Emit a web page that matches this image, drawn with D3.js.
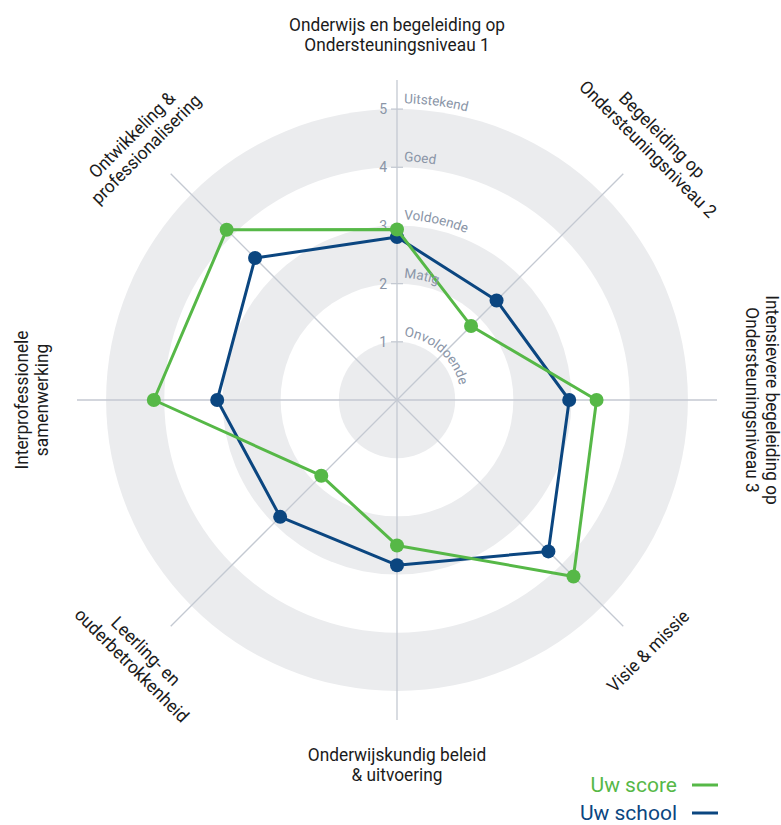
<!DOCTYPE html>
<html>
<head>
<meta charset="utf-8">
<script src="https://cdn.jsdelivr.net/npm/d3@7"></script>
<style>
  html, body { margin: 0; padding: 0; background: #ffffff; }
  svg { display: block; }
</style>
</head>
<body>
<div id="chart"></div>
<script>
// ---- data ----
const categories = [
  ["Onderwijs en begeleiding op", "Ondersteuningsniveau 1"],
  ["Begeleiding op", "Ondersteuningsniveau 2"],
  ["Intensievere begeleiding op", "Ondersteuningsniveau 3"],
  ["Visie & missie"],
  ["Onderwijskundig beleid", "& uitvoering"],
  ["Leerling- en", "ouderbetrokkenheid"],
  ["Interprofessionele", "samenwerking"],
  ["Ontwikkeling &", "professionalisering"]
];
const uwScore  = [2.93, 1.80, 3.43, 4.29, 2.50, 1.84, 4.18, 4.14];
const uwSchool = [2.80, 2.42, 2.96, 3.68, 2.84, 2.84, 3.09, 3.45];
const tickValues = [1, 2, 3, 4, 5];
const levelLabels = ["Onvoldoende", "Matig", "Voldoende", "Goed", "Uitstekend"];
const seriesNames = ["Uw score", "Uw school"];

// ---- style ----
const W = 781, H = 825;
const cx = 397, cy = 400;
const green = "#56b847", navy = "#0b4680";
const bandGrey = "#ebecee", axisGrey = "#c4c9d2", tickGrey = "#8a95a7";

const svg = d3.select("#chart").append("svg")
  .attr("width", W).attr("height", H);

const r = d3.scaleLinear().domain([0, 5.5]).range([0, 320]);
const angle = d3.scaleLinear().domain([0, categories.length]).range([0, 2 * Math.PI]);

const g = svg.append("g").attr("transform", `translate(${cx},${cy})`);

// bands
const bandLevels = [5, 4, 3, 2, 1];
g.selectAll("circle.band").data(bandLevels).join("circle")
  .attr("class", "band")
  .attr("r", d => r(d))
  .attr("fill", d => d % 2 === 1 ? bandGrey : "#ffffff");

// axes
g.selectAll("line.axis").data(categories).join("line")
  .attr("class", "axis")
  .attr("x1", 0).attr("y1", 0)
  .attr("x2", (d, i) => r(5.5) * Math.sin(angle(i)))
  .attr("y2", (d, i) => -r(5.5) * Math.cos(angle(i)))
  .attr("stroke", axisGrey).attr("stroke-width", 1.3);

// ticks
g.selectAll("line.tick").data(tickValues).join("line")
  .attr("class", "tick")
  .attr("x1", -6).attr("x2", 6)
  .attr("y1", d => -r(d)).attr("y2", d => -r(d))
  .attr("stroke", axisGrey).attr("stroke-width", 1.3);
g.selectAll("text.tick").data(tickValues).join("text")
  .attr("class", "tick")
  .attr("x", -10).attr("y", d => -r(d))
  .attr("dy", "0.36em")
  .attr("text-anchor", "end")
  .attr("font-family", "Roboto, sans-serif")
  .attr("font-size", 14)
  .attr("fill", tickGrey)
  .text(d => d);

// level labels on circular paths
const defs = svg.append("defs");
tickValues.forEach((v, i) => {
  const R = r(v) + 6;
  defs.append("path")
    .attr("id", "lvl" + i)
    .attr("d", `M ${cx} ${cy - R} A ${R} ${R} 0 1 1 ${cx} ${cy + R} A ${R} ${R} 0 1 1 ${cx} ${cy - R}`);
});
svg.append("g").selectAll("text.level").data(levelLabels).join("text")
  .attr("class", "level")
  .attr("font-family", "Roboto, sans-serif")
  .attr("font-size", 13.5)
  .attr("fill", tickGrey)
  .append("textPath")
  .attr("href", (d, i) => "#lvl" + i)
  .attr("startOffset", 7)
  .text(d => d);

// category labels
const R0 = 355, lh = 20;
categories.forEach((lines, i) => {
  const aDeg = i * 360 / categories.length;
  let rot = aDeg;
  if (aDeg > 90 && aDeg < 270) rot = aDeg - 180;
  else if (aDeg >= 270) rot = aDeg - 360;
  const bottomHalf = aDeg > 90 && aDeg < 270;
  const n = lines.length;
  const a = angle(i);
  const lg = g.append("g")
    .attr("transform", `translate(${R0 * Math.sin(a)},${-R0 * Math.cos(a)}) rotate(${rot})`);
  lines.forEach((t, j) => {
    let y;
    if (bottomHalf) y = j * lh;
    else y = -(n - 1 - j) * lh;
    lg.append("text")
      .attr("transform", `translate(0,${y}) scale(0.96,1)`)
      .attr("dy", "0.35em")
      .attr("text-anchor", "middle")
      .attr("font-family", "Roboto, sans-serif")
      .attr("font-size", 18)
      .attr("fill", "#1b1b1b")
      .text(t);
  });
});

// series
const line = d3.lineRadial()
  .angle((d, i) => angle(i))
  .radius(d => r(d))
  .curve(d3.curveLinearClosed);

const series = [
  { name: seriesNames[1], values: uwSchool, color: navy },
  { name: seriesNames[0], values: uwScore, color: green }
];
series.forEach(s => {
  g.append("path")
    .attr("d", line(s.values))
    .attr("fill", "none")
    .attr("stroke", s.color)
    .attr("stroke-width", 3)
    .attr("stroke-linejoin", "round");
  g.selectAll(null).data(s.values).join("circle")
    .attr("cx", (d, i) => r(d) * Math.sin(angle(i)))
    .attr("cy", (d, i) => -r(d) * Math.cos(angle(i)))
    .attr("r", 7)
    .attr("fill", s.color);
});

// legend
const legend = svg.append("g");
const legendItems = [
  { name: seriesNames[0], color: green },
  { name: seriesNames[1], color: navy }
];
legendItems.forEach((d, i) => {
  const y = 785 + i * 28;
  legend.append("text")
    .attr("x", 677).attr("y", y).attr("dy", "0.35em")
    .attr("text-anchor", "end")
    .attr("font-family", "Roboto, sans-serif")
    .attr("font-size", 21)
    .attr("fill", d.color)
    .text(d.name);
  legend.append("line")
    .attr("x1", 692).attr("x2", 718)
    .attr("y1", y).attr("y2", y)
    .attr("stroke", d.color).attr("stroke-width", 3);
});
</script>
</body>
</html>
